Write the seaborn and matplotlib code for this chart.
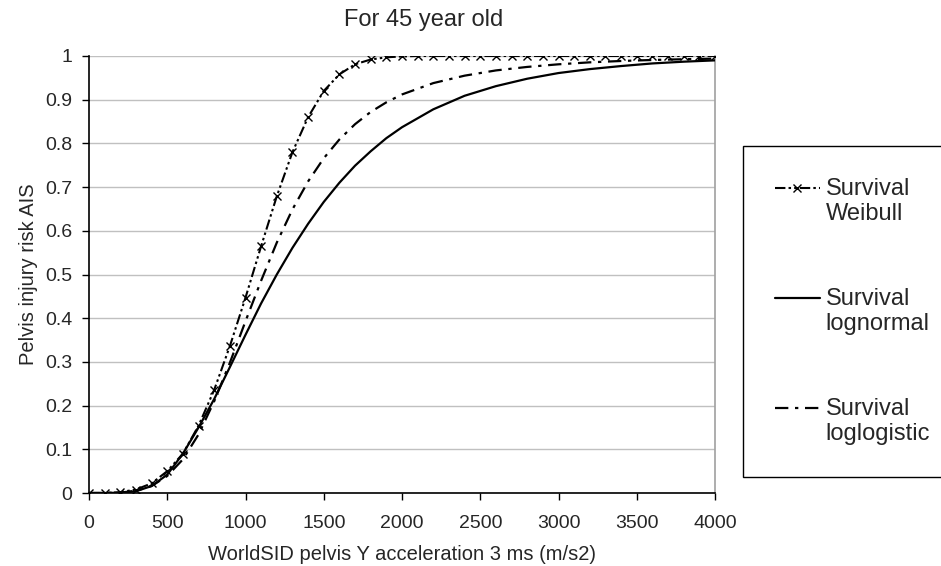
import numpy as np
import pandas as pd
import matplotlib
matplotlib.use("Agg")
import matplotlib.pyplot as plt
from matplotlib.ticker import FormatStrFormatter
import seaborn as sns

# values
weibull_x = list(range(0, 4001, 100))
weibull_y = [0.0, 0.0, 0.002, 0.008, 0.022, 0.05, 0.09, 0.154, 0.236, 0.336,
             0.447, 0.565, 0.679, 0.78, 0.86, 0.92, 0.958, 0.981, 0.992, 0.997,
             0.999, 1.0, 1.0, 1.0, 1.0, 1.0, 1.0, 1.0, 1.0, 1.0,
             1.0, 1.0, 1.0, 1.0, 1.0, 1.0, 1.0, 1.0, 1.0, 1.0, 1.0]

lognormal_x = [0, 100, 200, 300, 400, 500, 600, 700, 800, 900, 1000, 1100, 1200,
               1300, 1400, 1500, 1600, 1700, 1800, 1900, 2000, 2200, 2400, 2600,
               2800, 3000, 3200, 3400, 3600, 3800, 4000]
lognormal_y = [0.0, 0.0, 0.0003, 0.004, 0.016, 0.042, 0.09, 0.15, 0.215, 0.288,
               0.362, 0.434, 0.5, 0.561, 0.616, 0.666, 0.71, 0.749, 0.782, 0.812,
               0.837, 0.878, 0.909, 0.931, 0.948, 0.961, 0.97, 0.977, 0.983, 0.987,
               0.99]

loglogistic_x = lognormal_x
loglogistic_y = [0.0, 0.0001, 0.001, 0.005, 0.016, 0.039, 0.077, 0.134, 0.21, 0.298,
                 0.393, 0.486, 0.573, 0.649, 0.713, 0.766, 0.809, 0.844, 0.872, 0.894,
                 0.912, 0.938, 0.955, 0.967, 0.975, 0.981, 0.9855, 0.9886, 0.9909,
                 0.9926, 0.994]

x_ticks = [0, 500, 1000, 1500, 2000, 2500, 3000, 3500, 4000]
y_ticks = [0, 0.1, 0.2, 0.3, 0.4, 0.5, 0.6, 0.7, 0.8, 0.9, 1.0]

sns.set_theme(style="white")
plt.rcParams['font.family'] = ['Liberation Sans', 'DejaVu Sans']

fig = plt.figure(figsize=(9.41, 5.66), dpi=100)
ax = fig.add_axes([89/941, 1-493/566, (715-89)/941, (493-56)/566])

df_w = pd.DataFrame({'x': weibull_x, 'y': weibull_y})
df_ln = pd.DataFrame({'x': lognormal_x, 'y': lognormal_y})
df_ll = pd.DataFrame({'x': loglogistic_x, 'y': loglogistic_y})

sns.lineplot(data=df_w, x='x', y='y', ax=ax, color='black', lw=1.5,
             linestyle=(0, (5, 1.5, 1.2, 1.5, 1.2, 1.5)),
             marker='x', markersize=6, mec='black', mew=1,
             label='Survival\nWeibull', zorder=4)
sns.lineplot(data=df_ln, x='x', y='y', ax=ax, color='black', lw=1.6,
             label='Survival\nlognormal', zorder=3)
sns.lineplot(data=df_ll, x='x', y='y', ax=ax, color='black', lw=1.6,
             linestyle=(0, (6, 3, 1.5, 3)),
             label='Survival\nloglogistic', zorder=3)

ax.set_xlim(0, 4000)
ax.set_ylim(0, 1)
ax.set_xticks(x_ticks)
ax.set_yticks(y_ticks)
ax.yaxis.set_major_formatter(FormatStrFormatter('%g'))
ax.grid(axis='y', color='#c0c0c0', lw=1)
ax.set_axisbelow(True)

for s in ['left', 'bottom']:
    ax.spines[s].set_color('black')
    ax.spines[s].set_linewidth(1.2)
ax.spines['top'].set_visible(False)
ax.spines['right'].set_color('#a0a0a0')
ax.spines['right'].set_linewidth(1.2)

ax.tick_params(axis='both', direction='out', length=5, width=1, color='black',
               labelsize=14, bottom=True, left=True)
ax.tick_params(axis='x', pad=11)
ax.tick_params(axis='y', pad=7)

ax.set_xlabel('WorldSID pelvis Y acceleration 3 ms (m/s2)', fontsize=14.5, labelpad=9)
ax.set_ylabel('Pelvis injury risk AIS', fontsize=14.5, labelpad=5)
ax.set_title('For 45 year old', fontsize=17, x=(424-89)/626, y=(493-20)/437,
             va='center', pad=0)

leg = ax.legend(loc='upper left', bbox_to_anchor=(743/941, 0, 0.3, 1-146/566),
                bbox_transform=fig.transFigure, mode='expand', borderaxespad=0,
                fontsize=17, frameon=True, fancybox=False, framealpha=1,
                handlelength=1.9, handleheight=1.2, handletextpad=0.25,
                labelspacing=2.65, borderpad=1.35)
leg.get_frame().set_edgecolor('black')
leg.get_frame().set_linewidth(1)
# put each handle level with the first text line, as in the reference
for col in leg._legend_handle_box.get_children():
    for row in col.get_children():
        row.align = 'top'

fig.savefig('out.png', dpi=100)
